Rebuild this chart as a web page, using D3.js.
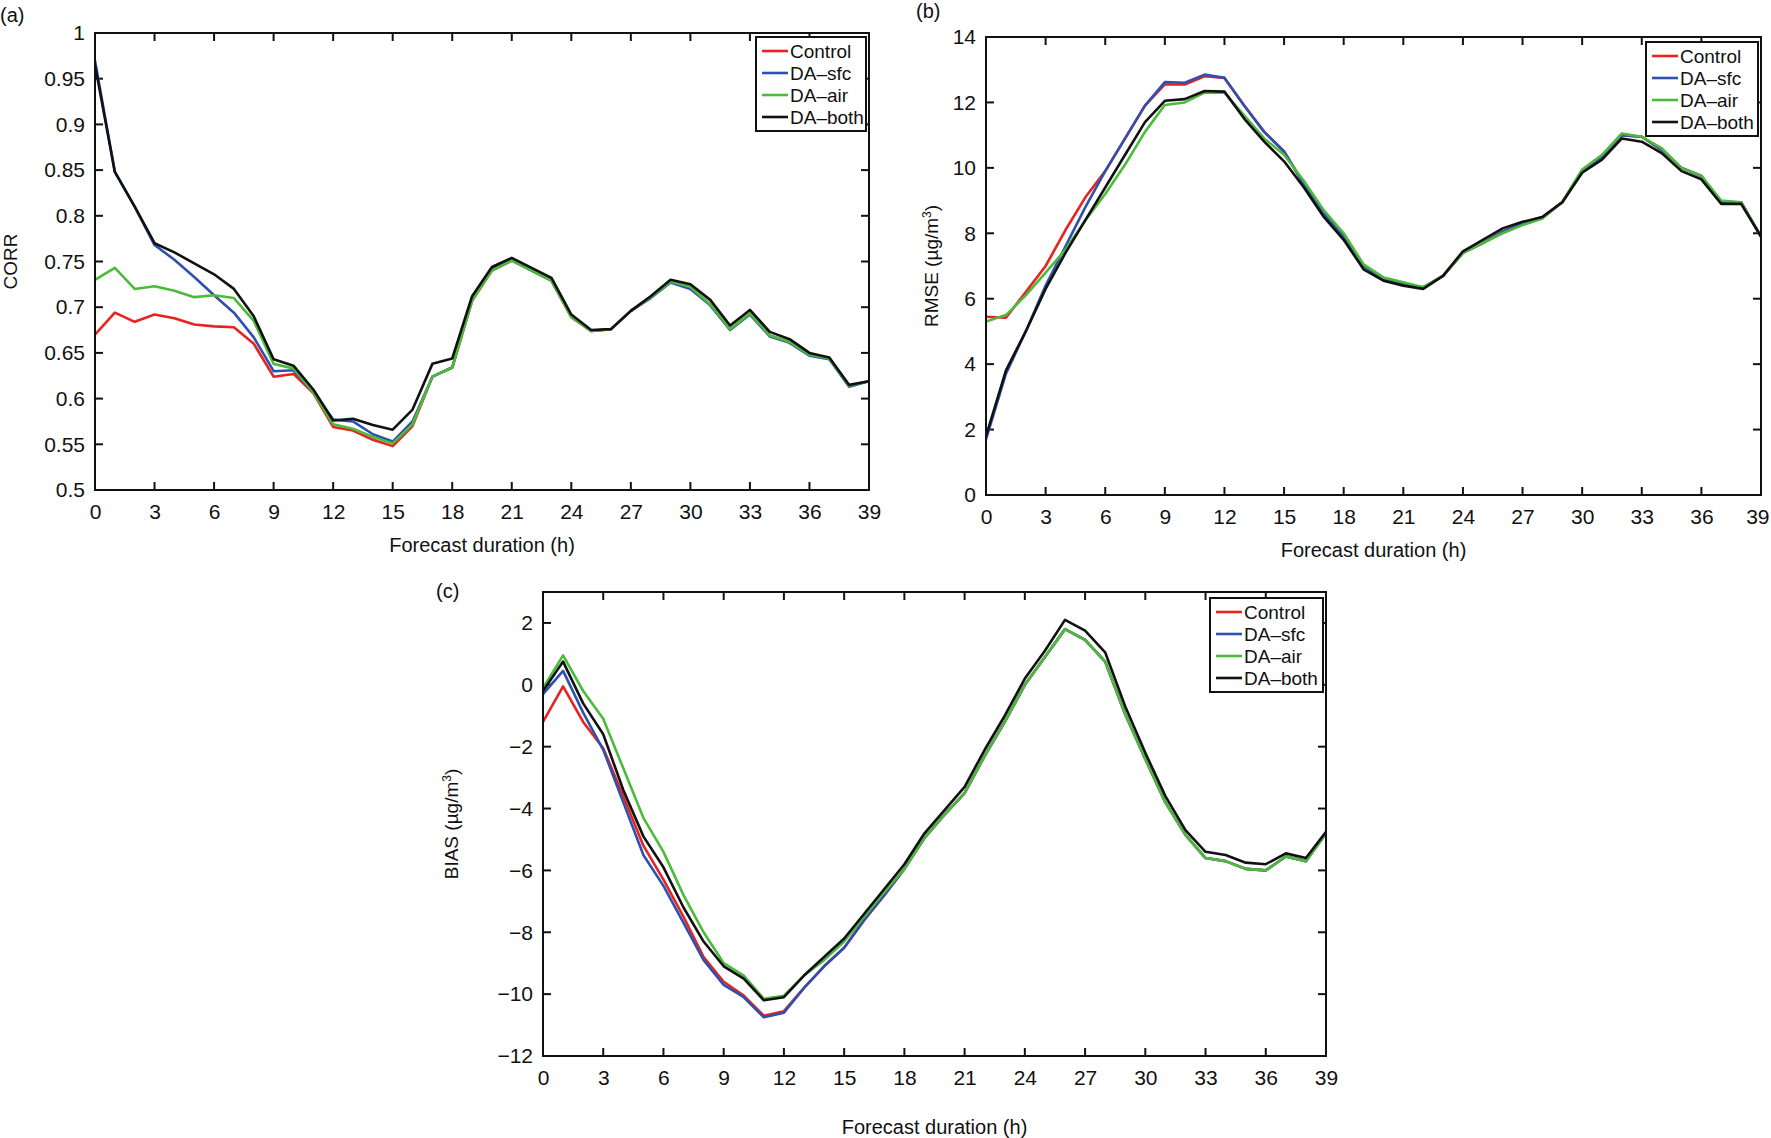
<!DOCTYPE html>
<html>
<head>
<meta charset="utf-8">
<script src="https://cdn.jsdelivr.net/npm/d3@7"></script>
<style>
  body { margin: 0; background: #fff; }
  svg text { font-family: "Liberation Sans Narrow", "Liberation Sans", Arial, sans-serif; }
</style>
</head>
<body>
<div id="box"></div>
<script>
// 数据：预报时长 0..39 h
const hours = d3.range(0, 40)
const seriesNames = ['Control', 'DA\u2013sfc', 'DA\u2013air', 'DA\u2013both']
const colors = ['#e8231f', '#3050b0', '#4cbb3c', '#111111']
const xTicks = d3.range(0, 40, 3)

// (a) CORR
const corrControl = [0.67,0.694,0.684,0.692,0.688,0.681,0.679,0.678,0.66,0.624,0.627,0.606,0.569,0.565,0.555,0.548,0.57,0.624,0.634,0.707,0.74,0.751,0.740,0.729,0.689,0.674,0.676,0.696,0.711,0.728,0.722,0.703,0.676,0.693,0.669,0.662,0.648,0.644,0.614,0.619]
const corrSfc = [0.97,0.848,0.81,0.768,0.752,0.733,0.713,0.694,0.667,0.63,0.631,0.607,0.577,0.575,0.561,0.553,0.575,0.624,0.634,0.71,0.742,0.752,0.740,0.729,0.690,0.674,0.676,0.696,0.71,0.727,0.72,0.702,0.675,0.692,0.668,0.661,0.647,0.643,0.613,0.619]
const corrAir = [0.73,0.743,0.72,0.723,0.718,0.711,0.713,0.71,0.685,0.638,0.633,0.607,0.572,0.567,0.558,0.551,0.572,0.624,0.634,0.707,0.74,0.751,0.740,0.729,0.689,0.674,0.676,0.696,0.711,0.728,0.722,0.703,0.676,0.693,0.669,0.662,0.648,0.644,0.614,0.619]
const corrBoth = [0.965,0.848,0.81,0.77,0.76,0.748,0.736,0.72,0.69,0.643,0.636,0.61,0.576,0.578,0.571,0.566,0.588,0.638,0.644,0.712,0.744,0.754,0.743,0.732,0.692,0.675,0.676,0.696,0.712,0.73,0.725,0.708,0.68,0.697,0.673,0.665,0.65,0.645,0.615,0.619]
const corrTicks = [0.5,0.55,0.6,0.65,0.7,0.75,0.8,0.85,0.9,0.95,1]

// (b) RMSE
const rmseControl = [5.45,5.42,6.2,7.0,8.1,9.1,9.9,10.9,11.9,12.55,12.55,12.8,12.75,11.9,11.1,10.5,9.5,8.6,7.9,7.0,6.6,6.45,6.35,6.7,7.4,7.7,8.05,8.3,8.5,8.95,9.9,10.35,11.0,10.95,10.55,10.0,9.75,8.95,8.95,7.9]
const rmseSfc = [1.7,3.7,5.0,6.4,7.6,8.8,9.9,10.9,11.9,12.62,12.6,12.85,12.75,11.9,11.1,10.5,9.5,8.6,7.9,7.0,6.6,6.45,6.35,6.7,7.4,7.7,8.05,8.3,8.5,8.95,9.9,10.35,11.0,10.95,10.55,10.0,9.75,8.95,8.95,7.9]
const rmseAir = [5.3,5.5,6.1,6.8,7.5,8.4,9.2,10.1,11.1,11.92,12.0,12.3,12.3,11.6,10.9,10.4,9.6,8.7,8.0,7.05,6.65,6.5,6.35,6.7,7.4,7.7,8.0,8.25,8.45,8.95,9.95,10.4,11.05,10.95,10.6,10.0,9.75,9.0,8.95,7.9]
const rmseBoth = [1.8,3.8,5.0,6.3,7.4,8.4,9.4,10.4,11.4,12.05,12.1,12.35,12.33,11.5,10.8,10.2,9.4,8.5,7.8,6.9,6.55,6.4,6.3,6.7,7.45,7.8,8.15,8.35,8.5,8.95,9.85,10.25,10.9,10.8,10.45,9.9,9.65,8.9,8.9,7.9]
const rmseTicks = [0,2,4,6,8,10,12,14]

// (c) BIAS
const biasControl = [-1.2,-0.05,-1.2,-2.05,-3.6,-5.2,-6.3,-7.5,-8.8,-9.6,-10.05,-10.7,-10.55,-9.8,-9.1,-8.5,-7.6,-6.8,-5.95,-4.95,-4.2,-3.5,-2.3,-1.2,0.0,0.9,1.8,1.45,0.75,-0.95,-2.4,-3.8,-4.85,-5.6,-5.7,-5.95,-6.0,-5.55,-5.7,-4.8]
const biasSfc = [-0.3,0.45,-0.9,-2.1,-3.8,-5.5,-6.5,-7.7,-8.9,-9.7,-10.1,-10.75,-10.6,-9.8,-9.1,-8.5,-7.6,-6.8,-5.95,-4.95,-4.2,-3.5,-2.3,-1.2,0.0,0.9,1.8,1.45,0.75,-0.95,-2.4,-3.8,-4.85,-5.6,-5.7,-5.95,-6.0,-5.55,-5.7,-4.8]
const biasAir = [-0.1,0.95,-0.2,-1.1,-2.7,-4.3,-5.4,-6.8,-8.0,-9.0,-9.4,-10.15,-10.05,-9.4,-8.9,-8.3,-7.5,-6.7,-5.95,-4.95,-4.2,-3.5,-2.3,-1.2,0.0,0.9,1.8,1.45,0.75,-0.95,-2.4,-3.8,-4.85,-5.6,-5.7,-5.95,-6.0,-5.55,-5.7,-4.8]
const biasBoth = [-0.2,0.75,-0.6,-1.6,-3.4,-4.9,-5.9,-7.2,-8.3,-9.1,-9.5,-10.2,-10.1,-9.4,-8.8,-8.2,-7.4,-6.6,-5.8,-4.8,-4.05,-3.3,-2.1,-1.0,0.2,1.1,2.1,1.75,1.05,-0.7,-2.2,-3.6,-4.7,-5.4,-5.5,-5.75,-5.8,-5.45,-5.6,-4.75]
const biasTicks = [-12,-10,-8,-6,-4,-2,0,2]

const svg = d3.select('#box').append('svg').attr('width', 1771).attr('height', 1138)

// 单个面板
function drawPanel(p) {
  const x = d3.scaleLinear().domain([0, 39]).range([p.left, p.right])
  const y = d3.scaleLinear().domain(p.ydomain).range([p.bottom, p.top])
  const g = svg.append('g')
  const tl = 8

  const ax = d3.axisBottom(x).tickValues(xTicks).tickSize(0).tickPadding(14).tickFormat(d3.format('d'))
  g.append('g').attr('transform', `translate(0,${p.bottom})`).call(ax)
  const ay = d3.axisLeft(y).tickValues(p.yticks).tickSize(0).tickPadding(10).tickFormat(p.yfmt)
  g.append('g').attr('transform', `translate(${p.left},0)`).call(ay)
  g.selectAll('.domain').remove()
  g.selectAll('.tick text').style('font-size', '21px').attr('fill', '#111')
  // 右边缘的 39 不要被裁掉
  if (p.right > 1740) g.selectAll('.tick text').filter(d => d === 39).attr('text-anchor', 'end').attr('dx', 8)

  // 内向刻度，四边
  const tk = g.append('g').attr('stroke', '#111').attr('stroke-width', 2)
  for (const t of xTicks) {
    tk.append('line').attr('x1', x(t)).attr('x2', x(t)).attr('y1', p.bottom).attr('y2', p.bottom - tl)
    tk.append('line').attr('x1', x(t)).attr('x2', x(t)).attr('y1', p.top).attr('y2', p.top + tl)
  }
  for (const t of p.yticks) {
    tk.append('line').attr('x1', p.left).attr('x2', p.left + tl).attr('y1', y(t)).attr('y2', y(t))
    tk.append('line').attr('x1', p.right).attr('x2', p.right - tl).attr('y1', y(t)).attr('y2', y(t))
  }

  const line = d3.line().x((d, i) => x(hours[i])).y(d => y(d))
  g.append('defs').append('clipPath').attr('id', 'clip' + p.id)
    .append('rect').attr('x', p.left).attr('y', p.top).attr('width', p.right - p.left).attr('height', p.bottom - p.top)
  p.series.forEach((s, i) => {
    g.append('path').datum(s).attr('d', line).attr('fill', 'none')
      .attr('stroke', colors[i]).attr('stroke-width', 2.6).attr('stroke-linejoin', 'round')
      .attr('clip-path', `url(#clip${p.id})`)
  })

  g.append('rect').attr('x', p.left).attr('y', p.top).attr('width', p.right - p.left).attr('height', p.bottom - p.top)
    .attr('fill', 'none').attr('stroke', '#111').attr('stroke-width', 2)

  // 图例
  const lg = g.append('g')
  lg.append('rect').attr('x', p.leg[0]).attr('y', p.leg[1]).attr('width', p.right - p.leg[0] - 3).attr('height', 94)
    .attr('fill', '#fff').attr('stroke', '#111').attr('stroke-width', 2)
  seriesNames.forEach((n, i) => {
    const yy = p.leg[1] + 14 + i * 22
    lg.append('line').attr('x1', p.leg[0] + 6).attr('x2', p.leg[0] + 32).attr('y1', yy).attr('y2', yy)
      .attr('stroke', colors[i]).attr('stroke-width', 2.6)
    lg.append('text').attr('x', p.leg[0] + 34).attr('y', yy + 7).text(n).style('font-size', '19px').attr('fill', '#111')
  })

  svg.append('text').attr('x', (p.left + p.right) / 2).attr('y', p.bottom + p.xlOff).attr('text-anchor', 'middle')
    .text('Forecast duration (h)').style('font-size', '20px').attr('fill', '#111')
  const yl = svg.append('text').attr('transform', `translate(${p.ylx},${(p.top + p.bottom) / 2}) rotate(-90)`)
    .attr('text-anchor', 'middle').style('font-size', '19px').style('font-family', '"Liberation Sans", Arial, sans-serif').attr('fill', '#111')
  if (p.unit) {
    yl.append('tspan').text(p.ylabel + ' (\u00b5g/m')
    yl.append('tspan').text('3').attr('dy', -7).style('font-size', '12px')
    yl.append('tspan').text(')').attr('dy', 7)
  } else yl.text(p.ylabel)
  svg.append('text').attr('x', p.tag[0]).attr('y', p.tag[1]).text(p.tagText).style('font-size', '20px').attr('fill', '#111')
}

drawPanel({id: 'a', left: 95, right: 869, top: 33, bottom: 490, ydomain: [0.5, 1], yticks: corrTicks,
  yfmt: d => String(d), series: [corrControl, corrSfc, corrAir, corrBoth], leg: [756, 37], xlOff: 62,
  ylabel: 'CORR', ylx: 17, tag: [0, 22], tagText: '(a)'})
drawPanel({id: 'b', left: 986, right: 1761, top: 37, bottom: 495, ydomain: [0, 14], yticks: rmseTicks,
  yfmt: d3.format('d'), series: [rmseControl, rmseSfc, rmseAir, rmseBoth], leg: [1646, 42], xlOff: 62,
  ylabel: 'RMSE', unit: true, ylx: 938, tag: [916, 18], tagText: '(b)'})
drawPanel({id: 'c', left: 543, right: 1326, top: 592, bottom: 1056, ydomain: [-12, 3], yticks: biasTicks,
  yfmt: d => d < 0 ? '\u2212' + Math.abs(d) : String(d), series: [biasControl, biasSfc, biasAir, biasBoth], leg: [1210, 598], xlOff: 78,
  ylabel: 'BIAS', unit: true, ylx: 458, tag: [436, 598], tagText: '(c)'})
</script>
</body>
</html>
